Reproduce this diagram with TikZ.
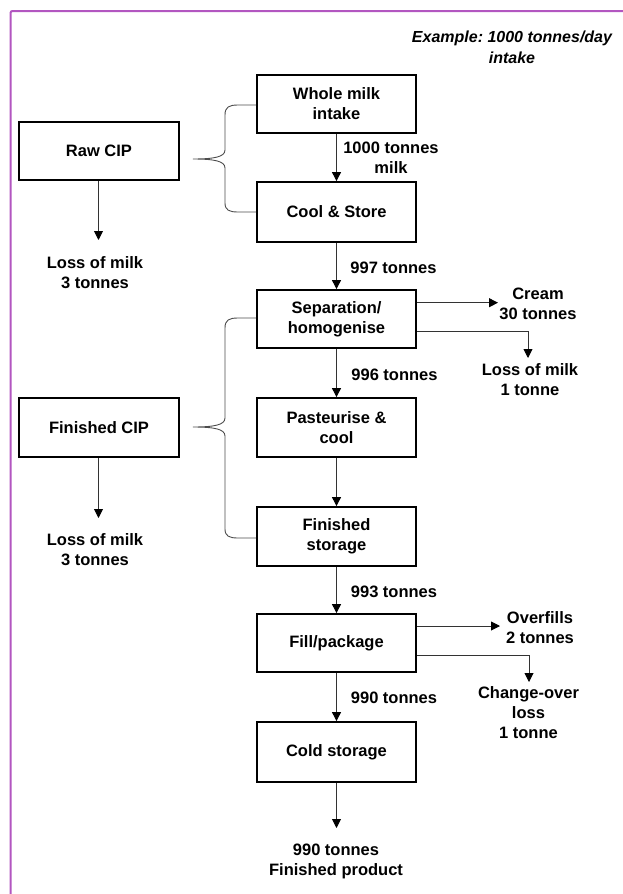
\documentclass[tikz,border=0pt]{standalone}
\usepackage{fontspec}
\setmainfont{Liberation Sans}
\usetikzlibrary{arrows.meta}
\definecolor{borderpurple}{RGB}{178,86,192}
\frenchspacing
\begin{document}
\begin{tikzpicture}[x=1pt,y=-1pt,
  every node/.style={font=\fontsize{16.5}{20}\selectfont\bfseries},
  procbox/.style={draw=black, line width=1.8pt, minimum width=159pt, minimum height=58pt, align=center, inner sep=2pt},
  lbl/.style={align=center, inner sep=0pt},
  arr/.style={draw=black!80, line width=0.9pt, -{Triangle[width=9pt,length=9pt,color=black]}},
  bracel/.style={draw=black!70, line width=0.9pt},
]
\useasboundingbox (0,0) rectangle (623,894);
% frame
\draw[borderpurple, line width=2pt, rounded corners=2pt] (10.5,894) -- (10.5,11) -- (623,11);

% process boxes
\node[procbox] (whole) at (336.5,104) {Whole milk\\intake};
\node[procbox, minimum height=60pt] (cool) at (336.5,212) {Cool \& Store};
\node[procbox] (sep) at (336.5,319) {Separation/\\homogenise};
\node[procbox, minimum height=59pt] (past) at (336.5,427.5) {Pasteurise \&\\cool};
\node[procbox, minimum height=59pt] (fstor) at (336.5,536.5) {Finished\\storage};
\node[procbox] (fill) at (336.5,643) {Fill/package};
\node[procbox, minimum height=60pt] (cold) at (336.5,752) {Cold storage};
\node[procbox, minimum width=160pt] (raw) at (99,151) {Raw CIP};
\node[procbox, minimum width=160pt, minimum height=59pt] (fcip) at (99,427.5) {Finished CIP};

% labels
\node[lbl, font=\fontsize{16}{21}\selectfont\bfseries\itshape] (example) at (512,47) {Example: 1000 tonnes/day\\intake};
\node[lbl] (l1000) at (391,158) {1000 tonnes\\milk};
\node[lbl] (l997) at (393.5,268) {997 tonnes};
\node[lbl] (l996) at (394.5,375) {996 tonnes};
\node[lbl] (l993) at (394,592) {993 tonnes};
\node[lbl] (l990) at (394,698) {990 tonnes};
\node[lbl] (rawloss) at (95,272.5) {Loss of milk\\3 tonnes};
\node[lbl] (finloss) at (95,550) {Loss of milk\\3 tonnes};
\node[lbl] (cream) at (538,304) {Cream\\30 tonnes};
\node[lbl] (seploss) at (530,380) {Loss of milk\\1 tonne};
\node[lbl] (overfills) at (540,627.5) {Overfills\\2 tonnes};
\node[lbl] (change) at (528.5,712.5) {Change-over\\loss\\1 tonne};
\node[lbl] (final) at (336,861.5) {990 tonnes\\Finished product};

% free ends of connectors
\coordinate (rawend) at (98.5,240);
\coordinate (finend) at (98.5,518);
\coordinate (creamend) at (498,302.7);
\coordinate (seplossend) at (528,358);
\coordinate (overend) at (500,626);
\coordinate (changeend) at (529,682);
\coordinate (coldend) at (336.5,828);

% main flow
\draw[arr] (whole) -- (cool);
\draw[arr] (cool) -- (sep);
\draw[arr] (sep) -- (past);
\draw[arr] (past) -- (fstor);
\draw[arr] (fstor) -- (fill);
\draw[arr] (fill) -- (cold);
\draw[arr] (cold) -- (coldend);

% CIP losses
\draw[arr] (raw.south -| rawend) -- (rawend);
\draw[arr] (fcip.south -| finend) -- (finend);

% side streams
\draw[arr] (sep.east |- creamend) -- (creamend);
\draw[arr] ([yshift=-12.7pt]sep.east) -| (seplossend);
\draw[arr] (fill.east |- overend) -- (overend);
\draw[arr] ([yshift=-12pt]fill.east) -| (changeend);

% braces
\draw[bracel] ([yshift=-1pt]whole.west) -- (238,105) .. controls (229,105) and (225,107) .. (225,115)
  -- (225,150) .. controls (225,157) and (214,159) .. (193,159)
  .. controls (214,159) and (225,161) .. (225,168)
  -- (225,203) .. controls (225,210) and (229,212) .. (238,212) -- (cool.west);
\draw[bracel] ([yshift=1pt]sep.west) -- (238,318) .. controls (229,318) and (225,320) .. (225,328)
  -- (225,418) .. controls (225,425) and (214,427) .. (193,427)
  .. controls (214,427) and (225,429) .. (225,436)
  -- (225,529) .. controls (225,536) and (229,538) .. (238,538) -- ([yshift=-1.5pt]fstor.west);
\end{tikzpicture}
\end{document}
